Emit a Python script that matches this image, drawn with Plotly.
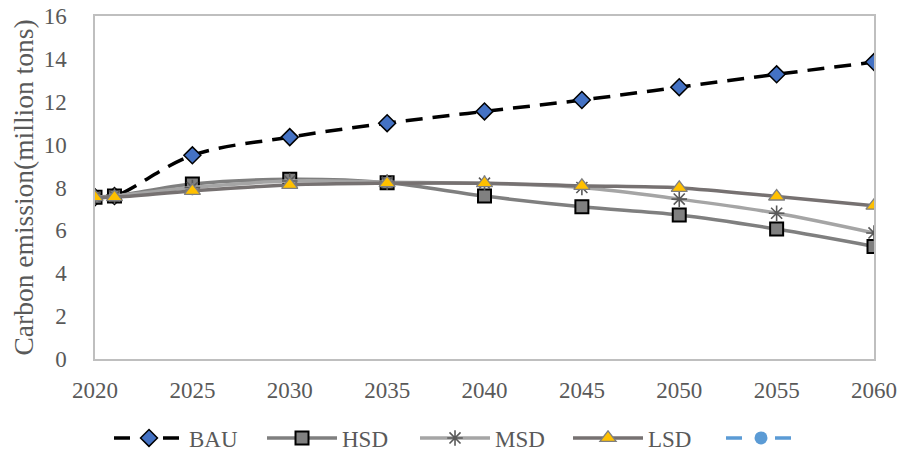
import plotly.graph_objects as go

years = [2020, 2021, 2025, 2030, 2035, 2040, 2045, 2050, 2055, 2060]
bau = [7.55, 7.6, 9.5, 10.35, 11.0, 11.55, 12.08, 12.68, 13.28, 13.85]
hsd = [7.55, 7.6, 8.16, 8.38, 8.22, 7.6, 7.1, 6.72, 6.06, 5.25]
msd = [7.55, 7.6, 8.0, 8.3, 8.25, 8.2, 8.0, 7.46, 6.8, 5.88]
lsd = [7.55, 7.55, 7.84, 8.12, 8.2, 8.2, 8.08, 7.98, 7.58, 7.15]
x_ticks = [2020, 2025, 2030, 2035, 2040, 2045, 2050, 2055, 2060]

FAM = "Liberation Serif, Times New Roman, serif"
GRAY = "#595959"
LEG_DASH = "16px,33px,16px"

bau_marker = dict(symbol="diamond", size=13, color="#4472C4", line=dict(color="black", width=1.5))

fig = go.Figure()
fig.add_trace(go.Scatter(x=years, y=bau, name="BAU", mode="lines+markers", showlegend=False,
    line=dict(color="black", width=3.5, dash="17px,10px", shape="spline"),
    marker=bau_marker))
fig.add_trace(go.Scatter(x=[None], y=[None], name="BAU", mode="lines+markers",
    line=dict(color="black", width=3.5, dash=LEG_DASH), marker=bau_marker))
fig.add_trace(go.Scatter(x=years, y=hsd, name="HSD", mode="lines+markers",
    line=dict(color="#7F7F7F", width=3.5, shape="spline"),
    marker=dict(symbol="square", size=13, color="#808080", line=dict(color="black", width=2))))
fig.add_trace(go.Scatter(x=years, y=msd, name="MSD", mode="lines+markers",
    line=dict(color="#A5A5A5", width=3.5, shape="spline"),
    marker=dict(symbol="asterisk-open", size=13, color=GRAY, line=dict(color=GRAY, width=1.6))))
fig.add_trace(go.Scatter(x=years, y=lsd, name="LSD", mode="lines+markers",
    line=dict(color="#767171", width=3.5, shape="spline"),
    marker=dict(symbol="triangle-up", size=14, color="#FFC000", line=dict(color="#7F7F7F", width=1.3))))
fig.add_trace(go.Scatter(x=[None], y=[None], name=" ", mode="lines+markers",
    line=dict(color="#5B9BD5", width=3.5, dash=LEG_DASH),
    marker=dict(symbol="circle", size=13, color="#5B9BD5")))

fig.update_layout(
    width=901, height=452,
    autosize=False,
    margin=dict(l=95, r=27, t=16, b=93, autoexpand=False),
    paper_bgcolor="white", plot_bgcolor="white",
    font=dict(family=FAM, size=23, color=GRAY),
    showlegend=True,
    legend=dict(orientation="h", x=0.509, xanchor="center", yref="container", y=0.031,
                yanchor="middle", itemwidth=70, entrywidth=68, entrywidthmode="pixels",
                tracegroupgap=0,
                font=dict(family=FAM, size=23, color=GRAY)),
    xaxis=dict(range=[2020, 2060], tickvals=x_ticks, showgrid=False, zeroline=False,
               showline=True, linecolor="#BFBFBF", linewidth=1.5, mirror=True, ticks="",
               ticklabelstandoff=10, ticklabeloverflow="allow",
               tickfont=dict(family=FAM, size=23, color=GRAY)),
    yaxis=dict(range=[0, 16], dtick=2, showgrid=False, zeroline=False,
               showline=True, linecolor="#BFBFBF", linewidth=1.5, mirror=True, ticks="",
               ticklabelstandoff=22, ticklabeloverflow="allow",
               tickfont=dict(family=FAM, size=23, color=GRAY),
               title=dict(text="Carbon emission(million tons)", standoff=2,
                          font=dict(family=FAM, size=27.5, color=GRAY))),
)
fig.write_html("out.html", config={"displayModeBar": False},
               post_script="document.body.style.margin='0';document.body.style.overflow='hidden';")
